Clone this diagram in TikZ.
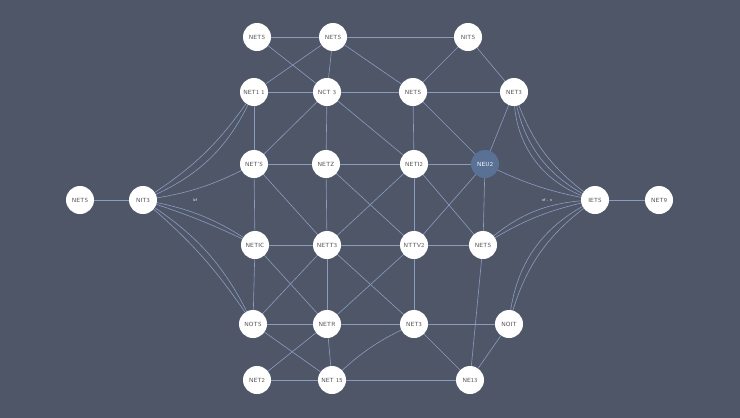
\documentclass[tikz,border=0pt]{standalone}
\usepackage{tikz}
\begin{document}
\begin{tikzpicture}[x=1pt, y=-1pt]
  \definecolor{bgcol}{HTML}{4F5668}
  \definecolor{linkcol}{HTML}{8A9CC0}
  \definecolor{hubcol}{HTML}{5A7196}
  \tikzstyle{net} = [circle, fill=white, minimum size=28pt, inner sep=0pt, font=\sffamily\fontsize{6}{6}\selectfont, text=black!70]
  \tikzstyle{hub} = [net, fill=hubcol, text=white]
  \tikzstyle{link} = [draw=linkcol, line width=0.6pt]
  \fill[bgcol] (0,0) rectangle (740,418);
  \useasboundingbox (0,0) rectangle (740,418);

  % node centres
  \foreach \name/\px/\py in {a/257/37, b/333/37, c/468/37,
      d/254/92, e/327/92, f/413/92, g/514/92,
      h/254/164, i/326/164, j/414/164, k/485/164,
      l/80/200, m/143/200, n/595/200, o/659/200,
      p/255/245, q/327/245, r/414/245, s/483/245,
      t/253/324, u/327/324, v/414/324, w/509/324,
      x/257/380, y/332/380, z/470/380}
    \coordinate (\name-c) at (\px,\py);

  % links
  \begin{scope}[link]
    \foreach \u/\v in {a/b, a/e, b/d, b/e, b/c, b/f, c/f, c/g, d/e, e/f, d/h, e/h, e/i, e/j,
        f/g, f/j, f/k, g/k, j/k, k/r, k/s, h/i, i/j, h/p, h/q, i/q, i/r, j/q, j/r, j/s,
        p/q, p/t, p/u, q/r, q/t, q/u, q/v, r/s, r/u, r/v, s/z, t/u, t/y, u/v, u/x, u/y,
        v/w, v/z, w/z, x/y, y/z, l/m, n/o}
      \draw (\u-c) -- (\v-c);
    \draw (k-c) to[bend right=8] (n-c);
    \draw (v-c) to[bend right=10] (y-c);
    % fan-out curves
    \draw (m-c) to[bend right=12] (d-c);
    \draw (m-c) to[bend right=22] (d-c);
    \draw (m-c) to[bend right=10] (h-c);
    \draw (m-c) to[bend left=12] (p-c);
    \draw (m-c) to[bend left=4] (p-c);
    \draw (m-c) to[bend left=8] (t-c);
    \draw (m-c) to[bend left=16] (t-c);
    \draw (g-c) to[bend right=18] (n-c);
    \draw (g-c) to[bend right=28] (n-c);
    \draw (g-c) to[bend right=38] (n-c);
    \draw (n-c) to[bend right=10] (s-c);
    \draw (n-c) to[bend right=20] (s-c);
    \draw (n-c) to[bend right=20] (w-c);
    \draw (n-c) to[bend right=30] (w-c);
  \end{scope}

  % node discs on top
  \foreach \name/\txt in {a/NETS, b/NETS, c/NITS, d/NET1 1, e/NCT 3, f/NETS, g/NET3,
      h/NET'S, i/NETZ, j/NETI2, l/NETS, m/NIT3, n/IETS, o/NET9,
      p/NETIC, q/NETT3, r/NTTV2, s/NETS, t/NOTS, u/NETR, v/NET3, w/NOIT,
      x/NET2, y/NET 15, z/NE13}
    \node[net] (\name) at (\name-c) {\txt};
  \node[hub] (k) at (k-c) {NEU2};

  \node[font=\sffamily\fontsize{4}{4}\selectfont, text=white] (lblL) at (195,200) {lef};
  \node[font=\sffamily\fontsize{4}{4}\selectfont, text=white] (lblR) at (547,200) {nf - n};
\end{tikzpicture}
\end{document}
